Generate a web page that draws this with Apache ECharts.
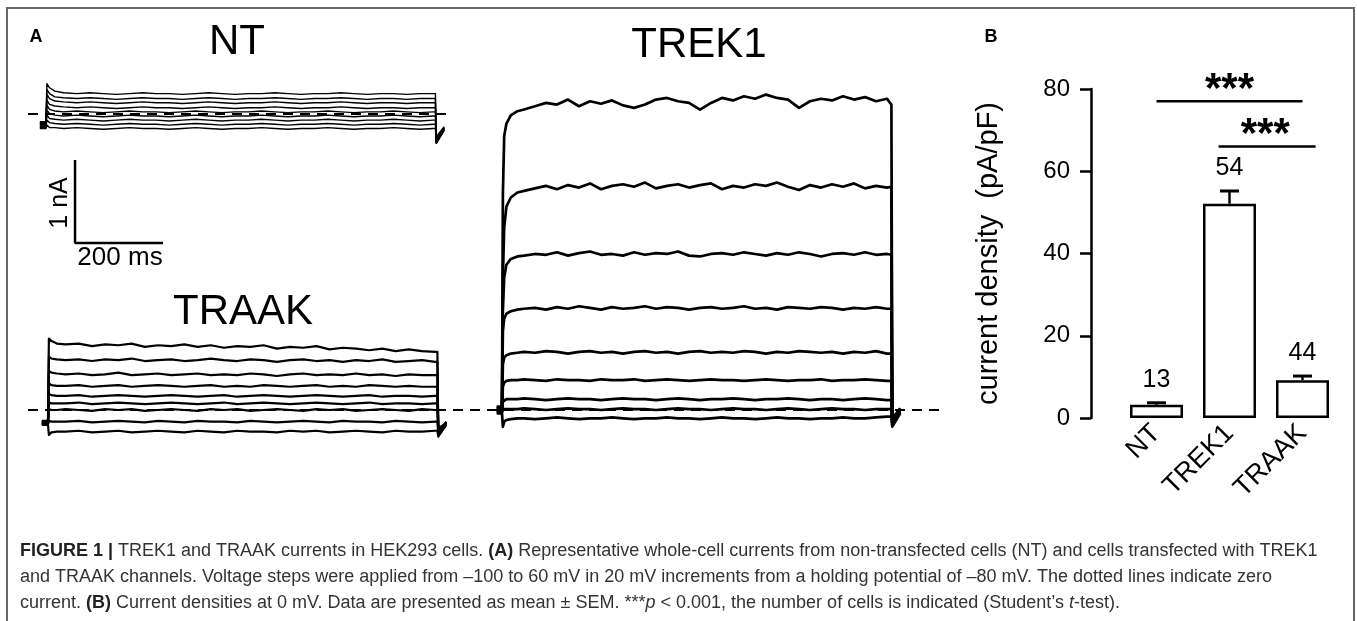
<!DOCTYPE html>
<html><head><meta charset="utf-8">
<script src="https://cdn.jsdelivr.net/npm/echarts@6.0.0/dist/echarts.min.js"></script>
<style>html,body{margin:0;padding:0;background:#fff}#c{width:1357px;height:621px}</style>
</head><body><div id="c"></div>
<script>
// ---------------- DATA ----------------
// Panel A: whole-cell current traces (nA) against time (ms), step onset at t = 0
const T_TREK1 = [-12,0,2,5,10,20,35,50,75,100,125,150,175,200,225,250,275,300,325,350,375,400,425,450,475,500,525,550,575,600,625,650,675,700,725,750,775,800,825,850,875,885,887,905];
const TREK1_P60 = [0.04,0.04,2.6,3.3,3.45,3.55,3.60, 3.62,3.66,3.70,3.68,3.74,3.66,3.72,3.69,3.73,3.67, 3.64,3.68,3.74,3.76,3.72,3.70,3.62,3.70,3.76,3.73, 3.78,3.75,3.80,3.76,3.74,3.64,3.72,3.75,3.73,3.78, 3.74,3.77,3.72,3.75, 3.68,-0.15,0.02];
const TREK1_P40 = [0.03,0.03,1.6,2.2,2.45,2.56,2.62, 2.64,2.67,2.70,2.66,2.71,2.68,2.73,2.66,2.70,2.72, 2.69,2.74,2.67,2.70,2.72,2.68,2.71,2.73,2.66,2.70, 2.68,2.72,2.70,2.74,2.69,2.65,2.71,2.68,2.72,2.69, 2.73,2.67,2.70,2.68, 2.69,-0.12,0.02];
const TREK1_P20 = [0.02,0.02,1.2,1.6,1.75,1.82,1.85, 1.86,1.88,1.87,1.90,1.86,1.89,1.91,1.87,1.88,1.86, 1.90,1.87,1.89,1.88,1.91,1.86,1.85,1.88,1.89,1.87, 1.90,1.88,1.86,1.89,1.87,1.90,1.88,1.85,1.88,1.89, 1.87,1.90,1.87,1.88, 1.87,-0.10,0.01];
const TREK1_P0 = [0.01,0.01,0.95,1.10,1.16,1.19,1.21, 1.22,1.23,1.21,1.24,1.22,1.25,1.23,1.21,1.24,1.22, 1.23,1.25,1.22,1.24,1.23,1.21,1.23,1.24,1.22,1.23, 1.25,1.22,1.23,1.21,1.24,1.23,1.22,1.24,1.23,1.21, 1.23,1.22,1.24,1.22, 1.22,-0.10,0.01];
const TREK1_M20 = [0,0,0.55,0.63,0.66,0.68,0.69, 0.70,0.69,0.71,0.70,0.68,0.70,0.71,0.69,0.70,0.68, 0.70,0.71,0.69,0.70,0.68,0.70,0.71,0.69,0.70,0.69, 0.71,0.70,0.68,0.70,0.69,0.71,0.70,0.69,0.70,0.68, 0.70,0.69,0.71,0.68, 0.68,-0.12,0];
const TREK1_M40 = [-0.01,-0.01,0.28,0.33,0.35,0.36,0.36, 0.37,0.36,0.35,0.37,0.36,0.36,0.35,0.37,0.36,0.36, 0.37,0.35,0.36,0.37,0.36,0.35,0.36,0.37,0.36,0.36, 0.35,0.36,0.37,0.36,0.35,0.36,0.36,0.37,0.35,0.36, 0.36,0.37,0.36,0.35, 0.35,-0.14,-0.01];
const TREK1_M60 = [-0.02,-0.02,0.10,0.12,0.13,0.13,0.13, 0.14,0.13,0.12,0.13,0.14,0.13,0.13,0.12,0.13,0.14, 0.13,0.13,0.12,0.13,0.14,0.13,0.12,0.13,0.13,0.14, 0.13,0.12,0.13,0.13,0.14,0.13,0.12,0.13,0.13,0.12, 0.13,0.14,0.13,0.12, 0.12,-0.15,-0.02];
const TREK1_M80 = [-0.03,-0.03,0.01,0.01,0.01,0.01,0.01, 0.02,0.01,0.00,0.01,0.02,0.01,0.01,0.00,0.01,0.02, 0.01,0.01,0.00,0.01,0.02,0.01,0.01,0.00,0.01,0.02, 0.01,0.01,0.00,0.01,0.02,0.01,0.00,0.01,0.02,0.01, 0.01,0.00,0.01,0.01, 0.01,-0.18,-0.03];
const TREK1_M100 = [-0.04,-0.04,-0.20,-0.14,-0.12,-0.11,-0.10, -0.10,-0.11,-0.10,-0.09,-0.10,-0.11,-0.10,-0.10,-0.09,-0.10, -0.11,-0.10,-0.10,-0.09,-0.10,-0.10,-0.11,-0.10,-0.09,-0.10, -0.10,-0.11,-0.10,-0.09,-0.10,-0.10,-0.11,-0.10,-0.10,-0.09, -0.10,-0.10,-0.09,-0.08, -0.08,-0.20,-0.04];

const T_SMALL = [-14,0,2,8,20,40,70,100,130,160,190,220,250,280,310,340,370,400,430,460,490,520,550,580,610,640,670,700,730,760,790,820,850,880,885,887,905];
const TRAAK_1 = [-0.13,-0.13,0.86,0.83,0.80, 0.79,0.80,0.77,0.79,0.78,0.80,0.76,0.78,0.77,0.79, 0.76,0.78,0.75,0.77,0.76,0.78,0.74,0.76,0.75,0.77, 0.73,0.75,0.74,0.72,0.74,0.71,0.73,0.71,0.70, 0.70,-0.30,-0.14];
const TRAAK_2 = [-0.14,-0.14,0.64,0.62,0.61, 0.60,0.61,0.59,0.61,0.60,0.62,0.59,0.60,0.61,0.59, 0.60,0.62,0.60,0.59,0.61,0.60,0.58,0.60,0.61,0.59, 0.60,0.58,0.60,0.59,0.61,0.58,0.59,0.60,0.58, 0.58,-0.28,-0.15];
const TRAAK_3 = [-0.15,-0.15,0.47,0.45,0.44, 0.43,0.44,0.42,0.43,0.45,0.42,0.43,0.44,0.42,0.43, 0.44,0.42,0.43,0.42,0.44,0.43,0.41,0.43,0.44,0.42, 0.43,0.42,0.44,0.42,0.43,0.41,0.43,0.42,0.42, 0.42,-0.26,-0.15];
const TRAAK_4 = [-0.15,-0.15,0.32,0.30,0.29, 0.29,0.30,0.28,0.29,0.30,0.28,0.29,0.30,0.29,0.28, 0.29,0.30,0.28,0.29,0.28,0.30,0.29,0.28,0.29,0.30, 0.28,0.29,0.28,0.30,0.29,0.28,0.29,0.28,0.28, 0.28,-0.24,-0.16];
const TRAAK_5 = [-0.16,-0.16,0.19,0.18,0.17, 0.17,0.18,0.16,0.17,0.18,0.17,0.16,0.17,0.18,0.17, 0.16,0.17,0.18,0.16,0.17,0.18,0.17,0.16,0.17,0.18, 0.17,0.16,0.17,0.18,0.16,0.17,0.17,0.16,0.17, 0.17,-0.22,-0.16];
const TRAAK_6 = [-0.16,-0.16,0.09,0.08,0.08, 0.08,0.09,0.07,0.08,0.09,0.08,0.07,0.08,0.09,0.08, 0.07,0.08,0.09,0.07,0.08,0.09,0.08,0.07,0.08,0.09, 0.08,0.07,0.08,0.09,0.07,0.08,0.08,0.07,0.08, 0.08,-0.24,-0.17];
const TRAAK_7 = [-0.17,-0.17,0.01,0.00,0.00, 0.01,0.00,-0.01,0.01,0.00,0.01,-0.01,0.00,0.01,0.00, -0.01,0.01,0.00,0.01,-0.01,0.00,0.01,0.00,-0.01,0.01, 0.00,0.01,-0.01,0.00,0.01,0.00,-0.01,0.01,0.00, 0.00,-0.27,-0.17];
const TRAAK_8 = [-0.17,-0.17,-0.13,-0.14,-0.14, -0.14,-0.13,-0.15,-0.14,-0.13,-0.14,-0.15,-0.13,-0.14,-0.15, -0.13,-0.14,-0.14,-0.15,-0.13,-0.14,-0.15,-0.14,-0.13,-0.14, -0.15,-0.13,-0.14,-0.14,-0.15,-0.13,-0.14,-0.15,-0.14, -0.14,-0.29,-0.18];
const TRAAK_9 = [-0.18,-0.18,-0.30,-0.27,-0.26, -0.26,-0.25,-0.27,-0.26,-0.25,-0.27,-0.26,-0.25,-0.26,-0.27, -0.25,-0.26,-0.27,-0.25,-0.26,-0.26,-0.27,-0.25,-0.26,-0.25, -0.27,-0.26,-0.25,-0.26,-0.27,-0.25,-0.26,-0.26,-0.25, -0.25,-0.32,-0.18];

const NT_1 = [-0.10,-0.10,0.36,0.31,0.27, 0.25,0.24,0.25,0.24,0.23,0.24,0.25,0.24,0.24,0.23, 0.24,0.25,0.24,0.23,0.24,0.24,0.25,0.24,0.23,0.24, 0.24,0.25,0.24,0.23,0.24,0.24,0.23,0.24,0.24, 0.24,-0.36,-0.20];
const NT_2 = [-0.11,-0.11,0.29,0.24,0.20, 0.19,0.18,0.19,0.18,0.17,0.18,0.19,0.18,0.18,0.17, 0.18,0.19,0.18,0.17,0.18,0.18,0.19,0.18,0.17,0.18, 0.18,0.19,0.18,0.17,0.18,0.18,0.17,0.18,0.18, 0.18,-0.34,-0.19];
const NT_3 = [-0.12,-0.12,0.23,0.18,0.15, 0.14,0.13,0.14,0.13,0.12,0.13,0.14,0.13,0.13,0.12, 0.13,0.14,0.13,0.12,0.13,0.13,0.14,0.13,0.12,0.13, 0.13,0.14,0.13,0.12,0.13,0.13,0.12,0.13,0.13, 0.13,-0.32,-0.18];
const NT_4 = [-0.13,-0.13,0.16,0.11,0.09, 0.08,0.07,0.08,0.07,0.06,0.07,0.08,0.07,0.07,0.06, 0.07,0.08,0.07,0.06,0.07,0.07,0.08,0.07,0.06,0.07, 0.07,0.08,0.07,0.06,0.07,0.07,0.06,0.07,0.07, 0.07,-0.30,-0.17];
const NT_5 = [-0.14,-0.14,0.10,0.05,0.03, 0.02,0.03,0.02,0.01,0.02,0.03,0.02,0.02,0.01,0.02, 0.03,0.02,0.01,0.02,0.02,0.03,0.02,0.01,0.02,0.02, 0.03,0.02,0.01,0.02,0.02,0.03,0.02,0.01,0.02, 0.02,-0.28,-0.16];
const NT_6 = [-0.15,-0.15,0.04,0.00,-0.02, -0.03,-0.02,-0.03,-0.04,-0.03,-0.02,-0.03,-0.03,-0.04,-0.03, -0.02,-0.03,-0.04,-0.03,-0.03,-0.02,-0.03,-0.04,-0.03,-0.03, -0.02,-0.03,-0.04,-0.03,-0.03,-0.02,-0.03,-0.04,-0.03, -0.03,-0.30,-0.17];
const NT_7 = [-0.16,-0.16,-0.02,-0.06,-0.07, -0.08,-0.07,-0.08,-0.09,-0.08,-0.07,-0.08,-0.08,-0.09,-0.08, -0.07,-0.08,-0.09,-0.08,-0.08,-0.07,-0.08,-0.09,-0.08,-0.08, -0.07,-0.08,-0.09,-0.08,-0.08,-0.07,-0.08,-0.09,-0.08, -0.08,-0.33,-0.18];
const NT_8 = [-0.17,-0.17,-0.08,-0.11,-0.12, -0.13,-0.12,-0.13,-0.14,-0.13,-0.12,-0.13,-0.13,-0.14,-0.13, -0.12,-0.13,-0.14,-0.13,-0.13,-0.12,-0.13,-0.14,-0.13,-0.13, -0.12,-0.13,-0.14,-0.13,-0.13,-0.12,-0.13,-0.14,-0.13, -0.13,-0.35,-0.19];
const NT_9 = [-0.18,-0.18,-0.14,-0.17,-0.17, -0.18,-0.17,-0.18,-0.19,-0.18,-0.17,-0.18,-0.18,-0.19,-0.18, -0.17,-0.18,-0.19,-0.18,-0.18,-0.17,-0.18,-0.19,-0.18,-0.18, -0.17,-0.18,-0.19,-0.18,-0.18,-0.17,-0.18,-0.19,-0.18, -0.18,-0.36,-0.20];

// scale bar: 1 nA / 200 ms, corner placed in NT panel units (ms, nA)
const SCALE_NA = 1;
const SCALE_MS = 200;
const SCALE_CORNER = [66, -1.56];

// Panel B: current density at 0 mV (pA/pF)
const CATEGORIES = ['NT', 'TREK1', 'TRAAK'];
const MEANS = [3.2, 52.1, 9.2];
const SEMS = [0.5, 3.1, 1.0];
const N_CELLS = [13, 54, 44];
const Y_MIN = 0, Y_MAX = 80, Y_STEP = 20;
const SIG_FROM = [0, 0.85];
const SIG_TO = [2, 2.18];
const SIG_LEVEL = [77, 66];
const SIG_STAR_AT = [1.0, 1.49];
const SIG_TEXT = ['***', '***'];

// ---------------- LAYOUT ----------------
const FONT = "'Liberation Sans', Arial, Helvetica, sans-serif";
const PX_PER_NA = 83, PX_PER_MS = 0.44;
function panel(left, right, zeroY, onsetX, yMin, yMax) {
  return {
    grid: { left: left, top: zeroY - yMax * PX_PER_NA, width: right - left, height: (yMax - yMin) * PX_PER_NA, outerBoundsMode: 'none' },
    xMin: (left - onsetX) / PX_PER_MS, xMax: (right - onsetX) / PX_PER_MS, yMin: yMin, yMax: yMax
  };
}
const P = [
  panel(28, 447, 113.5, 46, -2, 0.5),   // NT
  panel(28, 470, 410, 48, -0.6, 1.0),   // TRAAK
  panel(470, 940, 410, 502, -0.6, 4.6)  // TREK1
];

const zeroLine = { silent: true, symbol: ['none', 'none'], label: { show: false },
  lineStyle: { color: '#000', type: [10, 7], width: 2.2 }, data: [{ yAxis: 0 }], animation: false };

function traceSeries(T, list, idx, w) {
  return list.map((vals, k) => ({
    type: 'line', xAxisIndex: idx, yAxisIndex: idx,
    data: vals.map((v, j) => [T[j], v]).filter(d => d[0] !== undefined),
    showSymbol: false, symbol: 'none', silent: true, animation: false, clip: false, z: 3,
    lineStyle: { color: '#000', width: w, join: 'round' },
    markLine: k === 0 ? zeroLine : undefined
  }));
}

const series = [].concat(
  traceSeries(T_SMALL, [NT_1, NT_2, NT_3, NT_4, NT_5, NT_6, NT_7, NT_8, NT_9], 0, 1.4),
  traceSeries(T_SMALL, [TRAAK_1, TRAAK_2, TRAAK_3, TRAAK_4, TRAAK_5, TRAAK_6, TRAAK_7, TRAAK_8, TRAAK_9], 1, 2.2),
  traceSeries(T_TREK1, [TREK1_P60, TREK1_P40, TREK1_P20, TREK1_P0, TREK1_M20, TREK1_M40, TREK1_M60, TREK1_M80, TREK1_M100], 2, 2.7)
);

// scale bar drawn through NT panel scales
series.push({
  type: 'line', xAxisIndex: 0, yAxisIndex: 0, silent: true, animation: false, clip: false, showSymbol: false, symbol: 'none',
  lineStyle: { color: '#000', width: 2.5 },
  data: [[SCALE_CORNER[0], SCALE_CORNER[1] + SCALE_NA], SCALE_CORNER, [SCALE_CORNER[0] + SCALE_MS, SCALE_CORNER[1]]]
});

// bars
series.push({
  type: 'bar', xAxisIndex: 3, yAxisIndex: 3, data: MEANS, barWidth: 53, silent: true, animation: false,
  itemStyle: { color: '#fff', borderColor: '#000', borderWidth: 2.5 }
});
// error bars + n labels
series.push({
  type: 'custom', xAxisIndex: 3, yAxisIndex: 3, silent: true, animation: false, z: 4,
  data: MEANS.map((m, i) => [i, m, SEMS[i], N_CELLS[i]]),
  renderItem: function (params, api) {
    const i = api.value(0), m = api.value(1), s = api.value(2);
    const base = api.coord([i, m]), top = api.coord([i, m + s]);
    return { type: 'group', children: [
      { type: 'line', shape: { x1: base[0], y1: base[1], x2: top[0], y2: top[1] }, style: { stroke: '#000', lineWidth: 2.5 } },
      { type: 'line', shape: { x1: top[0] - 9.5, y1: top[1], x2: top[0] + 9.5, y2: top[1] }, style: { stroke: '#000', lineWidth: 3 } },
      { type: 'text', x: top[0], y: top[1] - 23, style: { text: String(api.value(3)), align: 'center', verticalAlign: 'middle', fontSize: 25, fontFamily: FONT, fill: '#000' } }
    ] };
  }
});
// significance brackets
series.push({
  type: 'custom', xAxisIndex: 4, yAxisIndex: 3, silent: true, animation: false, z: 4,
  data: SIG_FROM.map((f, k) => [f, SIG_TO[k], SIG_LEVEL[k], SIG_STAR_AT[k]]),
  renderItem: function (params, api) {
    const a = api.coord([api.value(0), api.value(2)]);
    const b = api.coord([api.value(1), api.value(2)]);
    const s = api.coord([api.value(3), api.value(2)]);
    return { type: 'group', children: [
      { type: 'line', shape: { x1: a[0], y1: a[1], x2: b[0], y2: b[1] }, style: { stroke: '#000', lineWidth: 2.5 } },
      { type: 'text', x: s[0], y: a[1] - 11, style: { text: SIG_TEXT[params.dataIndex], align: 'center', verticalAlign: 'middle', fontSize: 42, fontWeight: 'bold', fontFamily: FONT, fill: '#000' } }
    ] };
  }
});

const hiddenX = (p) => ({ type: 'value', gridIndex: P.indexOf(p), min: p.xMin, max: p.xMax, show: false });
const hiddenY = (p) => ({ type: 'value', gridIndex: P.indexOf(p), min: p.yMin, max: p.yMax, show: false });

// caption
const CAP_LINES = [
  [['FIGURE 1 | ', 'b'], ['TREK1 and TRAAK currents in HEK293 cells. ', 'n'], ['(A)', 'b'], [' Representative whole-cell currents from non-transfected cells (NT) and cells transfected with TREK1', 'n']],
  [['and TRAAK channels. Voltage steps were applied from \u2013100 to 60 mV in 20 mV increments from a holding potential of \u201380 mV. The dotted lines indicate zero', 'n']],
  [['current. ', 'n'], ['(B)', 'b'], [' Current densities at 0 mV. Data are presented as mean \u00b1 SEM. ***', 'n'], ['p', 'i'], [' < 0.001, the number of cells is indicated (Student\u2019s ', 'n'], ['t', 'i'], ['-test).', 'n']]
];
const CAP_FONT = "'Liberation Sans', Arial, sans-serif";
function fontStr(kind, size) { return (kind === 'i' ? 'italic ' : '') + (kind === 'b' ? 'bold ' : '') + size + 'px ' + CAP_FONT; }
const ctx = document.createElement('canvas').getContext('2d');
function lineWidth(segs, size) { let w = 0; segs.forEach(s => { ctx.font = fontStr(s[1], size); w += ctx.measureText(s[0]).width; }); return w; }
const capSize = Math.min(18, 100 * 1316 / lineWidth(CAP_LINES[0], 100));
const capRich = {
  n: { fontSize: capSize, fontFamily: CAP_FONT, fill: '#333' },
  b: { fontSize: capSize, fontFamily: CAP_FONT, fill: '#222', fontWeight: 'bold' },
  i: { fontSize: capSize, fontFamily: CAP_FONT, fill: '#333', fontStyle: 'italic' }
};
const CAP_Y = [551, 577, 603];
const captionEls = CAP_LINES.map((segs, k) => ({
  type: 'text', x: 20, y: CAP_Y[k], silent: true,
  style: { text: segs.map(s => '{' + s[1] + '|' + s[0] + '}').join(''), rich: capRich, align: 'left', verticalAlign: 'middle', fontSize: capSize, fontFamily: CAP_FONT, fill: '#333' }
}));

function label(text, x, y, size, opts) {
  return Object.assign({ type: 'text', x: x, y: y, silent: true,
    style: { text: text, align: 'center', verticalAlign: 'middle', fontSize: size, fontFamily: FONT, fill: '#000', fontWeight: (opts && opts.bold) ? 'bold' : 'normal' } },
    (opts && opts.rotation) ? { rotation: opts.rotation } : {});
}

const option = {
  backgroundColor: '#fff',
  animation: false,
  grid: [P[0].grid, P[1].grid, P[2].grid, { left: 1120, top: 89, width: 219, height: 329, outerBoundsMode: 'none' }],
  xAxis: [hiddenX(P[0]), hiddenX(P[1]), hiddenX(P[2]),
    { type: 'category', gridIndex: 3, data: CATEGORIES, axisLine: { show: false, onZero: false }, axisTick: { show: false },
      axisLabel: { rotate: 45, fontSize: 27, fontFamily: FONT, color: '#000', margin: 11, interval: 0 } },
    { type: 'value', gridIndex: 3, min: -0.5, max: CATEGORIES.length - 0.5, show: false, axisLine: { onZero: false } }],
  yAxis: [hiddenY(P[0]), hiddenY(P[1]), hiddenY(P[2]),
    { type: 'value', gridIndex: 3, min: Y_MIN, max: Y_MAX, interval: Y_STEP, offset: 29,
      axisLine: { show: true, onZero: false, lineStyle: { color: '#000', width: 2.5 } },
      axisTick: { show: true, length: 11, lineStyle: { color: '#000', width: 2.5 } },
      splitLine: { show: false },
      axisLabel: { fontSize: 24, fontFamily: FONT, color: '#000', margin: 21 },
      name: 'current density  (pA/pF)', nameLocation: 'middle', nameGap: 88, nameRotate: 90,
      nameTextStyle: { fontSize: 29, fontFamily: FONT, color: '#000' } }],
  graphic: [
    { type: 'rect', silent: true, shape: { x: 7, y: 8, width: 1347, height: 700 }, style: { fill: 'none', stroke: '#666', lineWidth: 2 }, z: 0 },
    label('A', 36, 37, 18, { bold: true }),
    label('B', 991, 37, 18, { bold: true }),
    label('NT', 237, 42, 42),
    label('TREK1', 699, 45, 42),
    label('TRAAK', 243, 312, 42),
    label('1 nA', 60, 203, 25, { rotation: Math.PI / 2 }),
    label('200 ms', 120, 258, 26)
  ].concat(captionEls),
  series: series
};

const chart = echarts.init(document.getElementById('c'), null, { renderer: 'canvas' });
chart.setOption(option);
</script></body></html>
